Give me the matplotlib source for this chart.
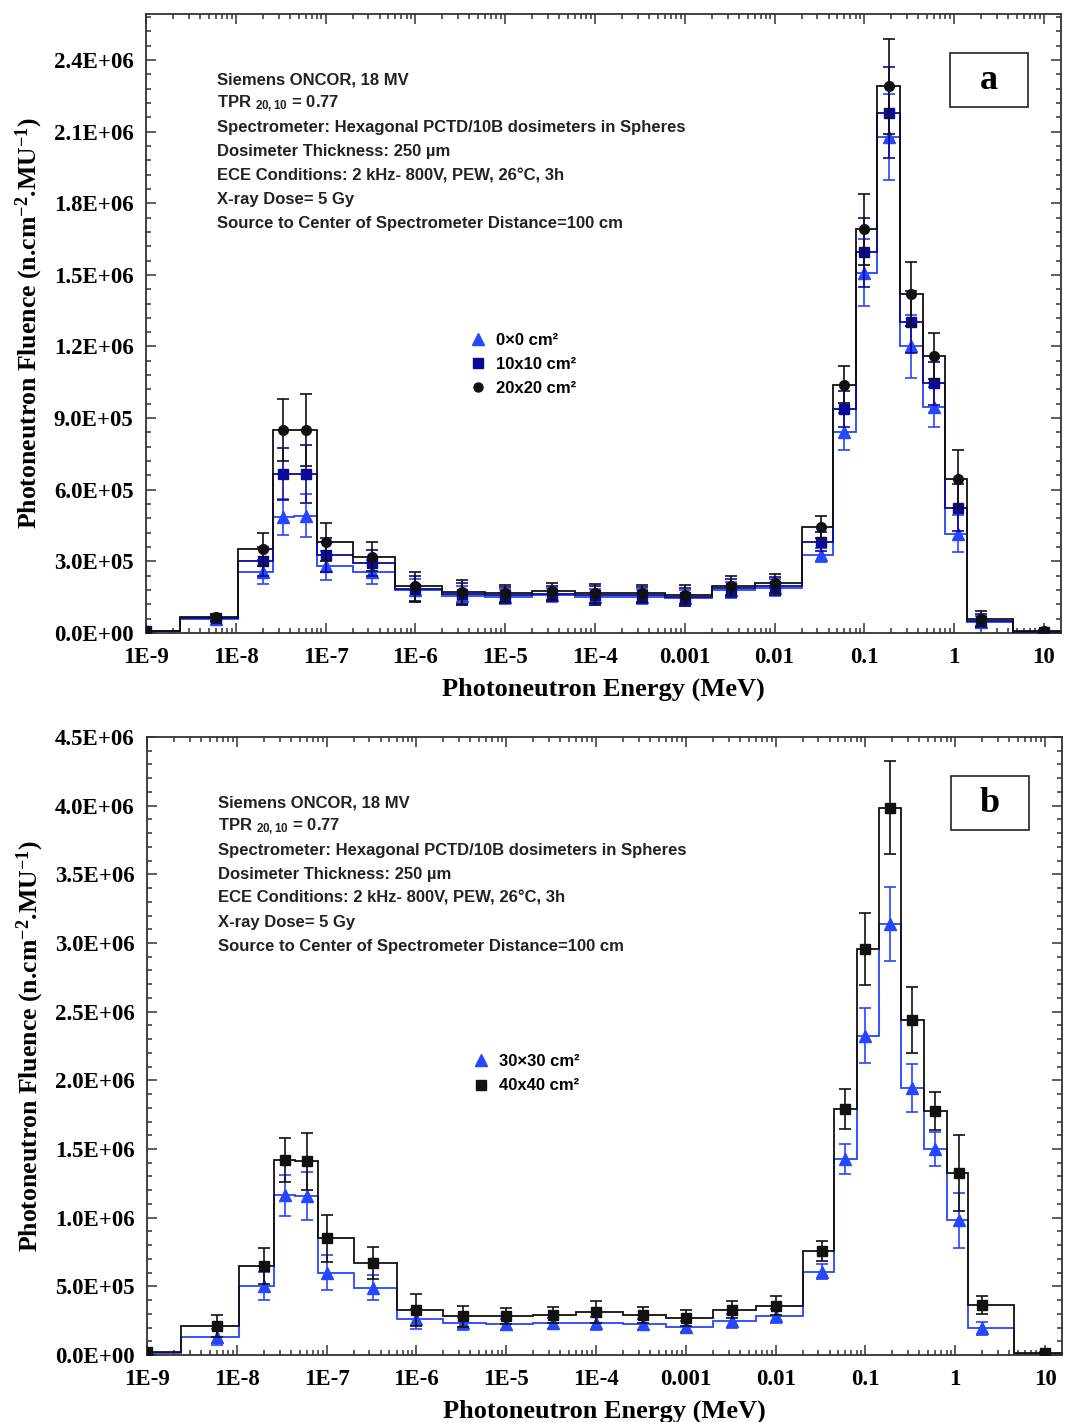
import matplotlib
matplotlib.use("Agg")
import matplotlib.pyplot as plt
from matplotlib.lines import Line2D
from matplotlib.patches import Rectangle
from matplotlib.ticker import FixedLocator, FixedFormatter, MultipleLocator, LogLocator, NullFormatter

plt.rcParams['mathtext.default'] = 'regular'

# ---------------- data ----------------
energy = [1e-9, 6e-9, 2e-8, 3.4e-8, 6e-8, 1e-7, 3.3e-7, 1e-6, 3.3e-6, 1e-5, 3.3e-5, 1e-4,
          3.3e-4, 1e-3, 3.3e-3, 1e-2, 3.3e-2, 6e-2, 0.1, 0.19, 0.33, 0.6, 1.1, 2, 10]
bin_edges = [1e-9, 2.4e-9, 1.07e-8, 2.57e-8, 4.5e-8, 8e-8, 2e-7, 6e-7, 2e-6, 6e-6, 2e-5, 6e-5,
             2e-4, 6e-4, 2e-3, 6e-3, 2e-2, 4.5e-2, 8e-2, 0.14, 0.25, 0.45, 0.8, 1.4, 4.5, 15.5]

# panel a
a_0x0 = [1.0e4, 6.0e4, 2.57e5, 4.87e5, 4.9e5, 2.82e5, 2.55e5, 1.78e5, 1.55e5, 1.52e5, 1.58e5, 1.5e5,
         1.52e5, 1.46e5, 1.8e5, 1.9e5, 3.27e5, 8.43e5, 1.509e6, 2.079e6, 1.2e6, 9.48e5, 4.15e5, 4.6e4, 4e3]
a_0x0_err = [5e3, 1.3e4, 5e4, 7.5e4, 9e4, 6e4, 5e4, 5e4, 4e4, 3e4, 3e4, 3.5e4,
             3e4, 3.5e4, 3.5e4, 3.5e4, 3e4, 7.7e4, 1.4e5, 1.8e5, 1.33e5, 8.4e4, 7.7e4, 2.5e4, 5e3]
a_10x10 = [1.0e4, 6.3e4, 3.0e5, 6.66e5, 6.66e5, 3.27e5, 2.92e5, 1.85e5, 1.63e5, 1.58e5, 1.65e5, 1.57e5,
           1.58e5, 1.52e5, 1.88e5, 1.98e5, 3.83e5, 9.37e5, 1.594e6, 2.18e6, 1.304e6, 1.046e6, 5.25e5, 5.2e4, 5e3]
a_10x10_err = [5e3, 1.4e4, 6e4, 1.1e5, 1.2e5, 7e4, 5.5e4, 5.5e4, 4.5e4, 3.3e4, 3.3e4, 3.8e4,
               3.3e4, 3.8e4, 3.8e4, 3.8e4, 4e4, 7.5e4, 1.45e5, 1.9e5, 1.3e5, 9e4, 1e5, 2.8e4, 5e3]
a_20x20 = [1.0e4, 6.5e4, 3.5e5, 8.5e5, 8.5e5, 3.8e5, 3.2e5, 1.95e5, 1.72e5, 1.66e5, 1.74e5, 1.66e5,
           1.66e5, 1.6e5, 1.98e5, 2.08e5, 4.43e5, 1.04e6, 1.69e6, 2.29e6, 1.42e6, 1.16e6, 6.45e5, 6.0e4, 6e3]
a_20x20_err = [5e3, 1.5e4, 7e4, 1.3e5, 1.5e5, 8e4, 6e4, 6e4, 5e4, 3.5e4, 3.5e4, 4e4,
               3.5e4, 4e4, 4e4, 4e4, 4.5e4, 7.7e4, 1.5e5, 2e5, 1.35e5, 9.5e4, 1.2e5, 3e4, 5e3]

# panel b
b_30x30 = [1.5e4, 1.3e5, 5.02e5, 1.163e6, 1.158e6, 6.0e5, 4.9e5, 2.62e5, 2.3e5, 2.25e5, 2.3e5, 2.3e5,
           2.25e5, 2.05e5, 2.5e5, 2.85e5, 6.06e5, 1.43e6, 2.326e6, 3.138e6, 1.946e6, 1.502e6, 9.81e5, 1.94e5, 1e4]
b_30x30_err = [8e3, 6e4, 1e5, 1.5e5, 1.75e5, 1.3e5, 9e4, 7.5e4, 5e4, 4e4, 4e4, 5e4,
               4e4, 4e4, 5e4, 5e4, 5.4e4, 1.1e5, 2e5, 2.7e5, 1.75e5, 1.25e5, 2e5, 5e4, 8e3]
b_40x40 = [2e4, 2.1e5, 6.47e5, 1.418e6, 1.41e6, 8.5e5, 6.71e5, 3.27e5, 2.83e5, 2.85e5, 2.9e5, 3.1e5,
           2.9e5, 2.7e5, 3.3e5, 3.6e5, 7.58e5, 1.793e6, 2.957e6, 3.986e6, 2.44e6, 1.776e6, 1.325e6, 3.63e5, 1.5e4]
b_40x40_err = [1e4, 8e4, 1.33e5, 1.6e5, 2.1e5, 1.7e5, 1.16e5, 1.17e5, 7.7e4, 6e4, 6e4, 8e4,
               6e4, 6e4, 6e4, 7e4, 7e4, 1.45e5, 2.6e5, 3.4e5, 2.4e5, 1.4e5, 2.75e5, 6.5e4, 1e4]

xtick_values = [1e-9, 1e-8, 1e-7, 1e-6, 1e-5, 1e-4, 1e-3, 1e-2, 1e-1, 1, 10]
xtick_labels = ["1E-9", "1E-8", "1E-7", "1E-6", "1E-5", "1E-4", "0.001", "0.01", "0.1", "1", "10"]
a_yticks = [0, 3e5, 6e5, 9e5, 1.2e6, 1.5e6, 1.8e6, 2.1e6, 2.4e6]
b_yticks = [0, 5e5, 1e6, 1.5e6, 2e6, 2.5e6, 3e6, 3.5e6, 4e6, 4.5e6]

info_lines = ["Siemens ONCOR, 18 MV",
              "TPR $_{20,10}$ = 0.77",
              "Spectrometer: Hexagonal PCTD/10B dosimeters in Spheres",
              "Dosimeter Thickness: 250 µm",
              "ECE Conditions: 2 kHz- 800V, PEW, 26°C, 3h",
              "X-ray Dose= 5 Gy",
              "Source to Center of Spectrometer Distance=100 cm"]

BLUE = "#2646ff"
NAVY = "#0a0a96"
BLACK = "#111111"

SERIF = "Liberation Serif"
SANS = "Liberation Sans"

fig = plt.figure(figsize=(10.67, 14.22), dpi=100)
ax_a = fig.add_axes([0.1368, 0.5549, 0.8576, 0.4353])
ax_b = fig.add_axes([0.1378, 0.0471, 0.8576, 0.4346])


def style_axis(ax, yticks, ymax, minor_step):
    ax.set_xscale('log')
    ax.set_xlim(1e-9, 15.5)
    ax.set_ylim(0, ymax)
    ax.xaxis.set_major_locator(FixedLocator(xtick_values))
    ax.xaxis.set_major_formatter(FixedFormatter(xtick_labels))
    ax.xaxis.set_minor_locator(LogLocator(base=10, subs=[2, 3, 4, 5, 6, 7, 8, 9], numticks=30))
    ax.xaxis.set_minor_formatter(NullFormatter())
    ax.yaxis.set_major_locator(FixedLocator(yticks))
    ax.yaxis.set_major_formatter(FixedFormatter(["%.1E" % v for v in yticks]))
    ax.yaxis.set_minor_locator(MultipleLocator(minor_step))
    ax.tick_params(which='both', direction='in', top=True, right=True, width=1.1, color='#333333')
    ax.tick_params(which='major', length=7)
    ax.tick_params(which='minor', length=3.5)
    ax.tick_params(axis='x', which='major', pad=10)
    ax.tick_params(axis='y', which='major', pad=9)
    for lab in ax.get_xticklabels() + ax.get_yticklabels():
        lab.set_fontfamily(SERIF)
        lab.set_fontweight('bold')
        lab.set_fontsize(16.5)
    for sp in ax.spines.values():
        sp.set_linewidth(1.3)
        sp.set_color('#333333')
    ax.set_xlabel("Photoneutron Energy (MeV)", fontfamily=SERIF, fontweight='bold', fontsize=19, labelpad=7)
    ax.set_ylabel("Photoneutron Fluence (n.cm$^{-2}$.MU$^{-1}$)", fontfamily=SERIF, fontweight='bold',
                  fontsize=18.5, labelpad=6)


def draw_info(ax, label):
    y0 = 0.894
    dy = 24 / 619
    for i, line in enumerate(info_lines):
        ax.text(0.0776, y0 - i * dy, line, transform=ax.transAxes, fontfamily=SANS,
                fontweight='bold', fontsize=12, color='#222222', va='center', ha='left')
    ax.add_patch(Rectangle((0.879, 0.849), 0.0852, 0.0872, transform=ax.transAxes,
                           fill=False, edgecolor='#222222', linewidth=1.2, zorder=5))
    ax.text(0.921, 0.892, label, transform=ax.transAxes, fontfamily=SERIF, fontweight='bold',
            fontsize=26, ha='center', va='center', zorder=6)


def series(ax, vals, errs, color, marker, ms, lw=1.3, z=2):
    ax.stairs(vals, bin_edges, baseline=None, color=color, linewidth=lw, zorder=z)
    ax.errorbar(energy, vals, yerr=errs, fmt=marker, color=color, ms=ms, capsize=4,
                elinewidth=1.2, capthick=1.2, zorder=z + 1, linestyle='none')


# ---- panel a ----
series(ax_a, a_0x0, a_0x0_err, BLUE, '^', 8, z=2)
series(ax_a, a_10x10, a_10x10_err, NAVY, 's', 6.5, z=3)
series(ax_a, a_20x20, a_20x20_err, BLACK, 'o', 7, z=4)
style_axis(ax_a, a_yticks, 2.593e6, 6e4)
draw_info(ax_a, "a")
handles_a = [Line2D([], [], ls='none', marker='^', color=BLUE, ms=8),
             Line2D([], [], ls='none', marker='s', color=NAVY, ms=6.5),
             Line2D([], [], ls='none', marker='o', color=BLACK, ms=6.5)]
ax_a.legend(handles_a, ["0×0 cm²", "10x10 cm²", "20x20 cm²"], loc='upper left',
            bbox_to_anchor=(0.337, 0.509), frameon=False, handlelength=1.0, handletextpad=0.6,
            labelspacing=0.55, prop={'family': SANS, 'weight': 'bold', 'size': 12})

# ---- panel b ----
series(ax_b, b_30x30, b_30x30_err, BLUE, '^', 8, z=2)
series(ax_b, b_40x40, b_40x40_err, BLACK, 's', 7, z=3)
style_axis(ax_b, b_yticks, 4.5e6, 1e5)
draw_info(ax_b, "b")
handles_b = [Line2D([], [], ls='none', marker='^', color=BLUE, ms=8),
             Line2D([], [], ls='none', marker='s', color=BLACK, ms=6.5)]
ax_b.legend(handles_b, ["30×30 cm²", "40x40 cm²"], loc='upper left',
            bbox_to_anchor=(0.339, 0.511), frameon=False, handlelength=1.0, handletextpad=0.6,
            labelspacing=0.55, prop={'family': SANS, 'weight': 'bold', 'size': 12})

fig.savefig("out.png", dpi=100)
